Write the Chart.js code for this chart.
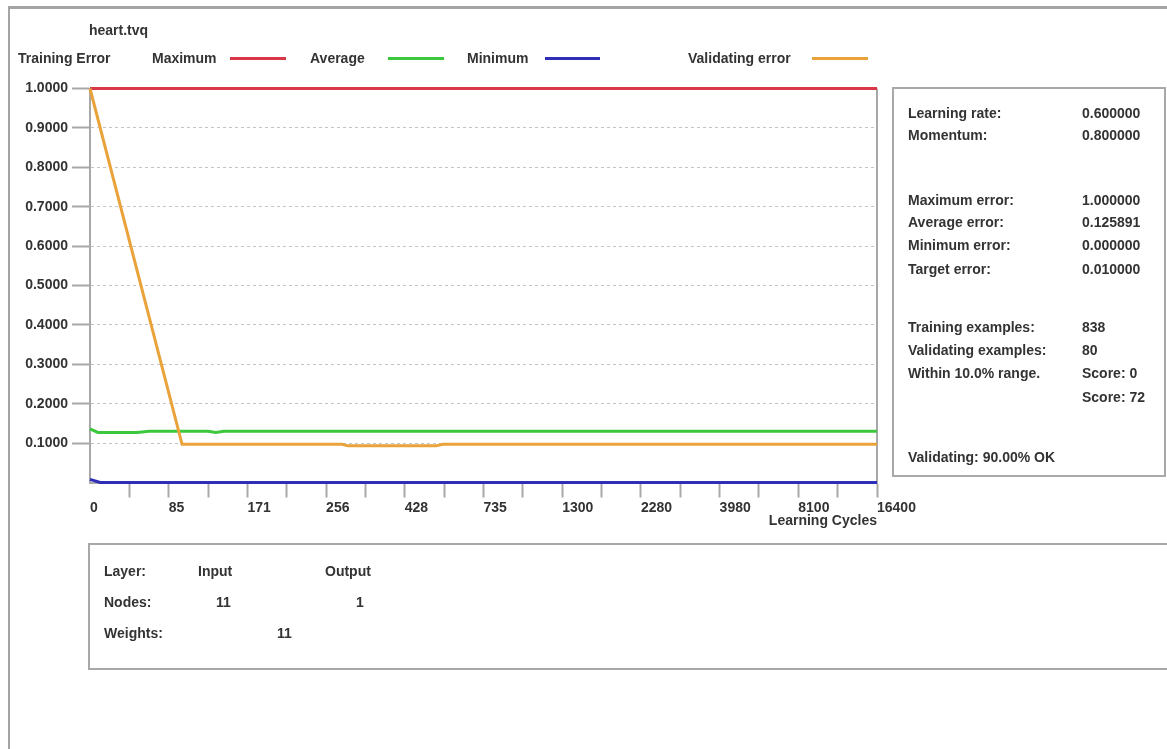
<!DOCTYPE html>
<html><head><meta charset="utf-8">
<script src="https://cdn.jsdelivr.net/npm/chart.js@4"></script>
<style>
html,body{margin:0;padding:0;background:#fff;}
#wrap{position:relative;width:1167px;height:749px;overflow:hidden;font-family:"Liberation Sans",Arial,sans-serif;font-weight:bold;font-size:14px;color:#333;}
#c{position:absolute;left:0;top:0;}
.t{position:absolute;white-space:nowrap;line-height:16px;}
.frame{position:absolute;left:8px;top:6px;width:1200px;height:800px;border-top:3px solid #a4a4a4;border-left:2px solid #a4a4a4;}
.box{position:absolute;border:2px solid #a8a8a8;box-sizing:border-box;}
.lg{position:absolute;height:3px;}
</style></head>
<body>
<div id="wrap">
  <div class="frame"></div>
  <canvas id="c" width="1167" height="749"></canvas>
  <div class="box" style="left:892px;top:87px;width:274px;height:390px;"></div>
  <div class="box" style="left:88px;top:543px;width:1100px;height:127px;"></div>
  <div id="texts"></div>
</div>
<script>
// ---- data ----
const fileTitle = 'heart.tvq';
const legendTitle = 'Training Error';
const cycleLabels = ['0','85','171','256','428','735','1300','2280','3980','8100','16400'];
const seriesNames = ['Maximum','Average','Minimum','Validating error'];
const maxX = [0, 10];
const maxY = [1.0, 1.0];
const avgX = [0, 0.1, 0.6, 0.75, 1.5, 1.6, 1.7, 10];
const avgY = [0.136, 0.127, 0.127, 0.130, 0.130, 0.127, 0.130, 0.130];
const minX = [0, 0.13, 10];
const minY = [0.008, 0.0, 0.0];
const valX = [0, 1.17, 3.2, 3.28, 4.4, 4.48, 10];
const valY = [1.0, 0.097, 0.097, 0.093, 0.093, 0.097, 0.097];
const statsLabels = ['Learning rate:','Momentum:','Maximum error:','Average error:','Minimum error:','Target error:','Training examples:','Validating examples:','Within 10.0% range.','','Validating: 90.00% OK'];
const statsValues = ['0.600000','0.800000','1.000000','0.125891','0.000000','0.010000','838','80','Score: 0','Score: 72',''];
const layerNames = ['Input','Output'];
const layerNodes = ['11','1'];
const layerWeights = ['11'];

// ---- chart ----
const FONT = "'Liberation Sans', Arial, sans-serif";
Chart.defaults.font.family = FONT;
const tf = {family: FONT, size: 14, weight: 'bold'};
const colors = ['#d83848', '#3cc83c', '#2e2eb8', '#eaa23a'];
const pts = (xs, ys) => xs.map((x, i) => ({x: x, y: ys[i]}));
const seriesData = [pts(maxX, maxY), pts(avgX, avgY), pts(minX, minY), pts(valX, valY)];
const T = 'rgba(0,0,0,0)';

const rightLine = {
  id: 'rightLine',
  beforeDatasetsDraw(chart) {
    const {ctx, chartArea: a} = chart;
    ctx.save();
    ctx.strokeStyle = '#a8a8a8';
    ctx.lineWidth = 2;
    ctx.beginPath();
    ctx.moveTo(a.right, a.top);
    ctx.lineTo(a.right, a.bottom);
    ctx.stroke();
    ctx.restore();
  }
};

const chart = new Chart(document.getElementById('c'), {
  type: 'line',
  data: {
    datasets: seriesNames.map((n, i) => ({
      label: n,
      data: seriesData[i],
      borderColor: colors[i],
      backgroundColor: colors[i],
      borderWidth: 3,
      pointRadius: 0,
      tension: 0,
      clip: false,
      order: i === 3 ? 0 : 1
    }))
  },
  options: {
    responsive: false,
    animation: false,
    layout: {padding: {left: 0, top: 88.5, right: 290, bottom: 219.5}},
    plugins: {legend: {display: false}, tooltip: {enabled: false}},
    scales: {
      x: {
        type: 'linear', min: 0, max: 10,
        afterFit(s) { s.height = 47; },
        ticks: {
          stepSize: 0.5, maxTicksLimit: 100, autoSkip: false, maxRotation: 0, minRotation: 0,
          align: 'start', padding: 2, color: '#333', font: tf,
          callback: v => Number.isInteger(v) ? cycleLabels[v] : ''
        },
        grid: {
          drawOnChartArea: false, tickLength: 15, tickWidth: 2,
          color: c => (c.tick && c.tick.value === 0) ? T : '#a8a8a8',
          tickColor: c => (c.tick && c.tick.value === 0) ? T : '#a8a8a8'
        },
        border: {color: '#a8a8a8', width: 2},
        title: {display: true, text: 'Learning Cycles', align: 'end', color: '#333', font: tf, padding: {top: 0, bottom: 0}}
      },
      y: {
        type: 'linear', min: 0, max: 1,
        afterFit(s) { s.width = 90; },
        ticks: {
          stepSize: 0.1, maxTicksLimit: 100, padding: 4, color: '#333', font: tf,
          callback: v => v === 0 ? '' : Number(v).toFixed(4)
        },
        grid: {
          lineWidth: 1, tickLength: 18, tickWidth: 2, tickBorderDash: [],
          color: c => (c.tick && (c.tick.value < 0.001 || c.tick.value > 0.999)) ? T : '#c4c4c4',
          tickColor: c => (c.tick && c.tick.value < 0.001) ? T : '#a8a8a8'
        },
        border: {color: '#a8a8a8', width: 2, dash: [3, 3]}
      }
    }
  },
  plugins: [rightLine]
});

// ---- text overlays ----
const box = document.getElementById('texts');
function txt(s, x, yc) {
  const d = document.createElement('div');
  d.className = 't';
  d.textContent = s;
  d.style.left = x + 'px';
  d.style.top = (yc - 8) + 'px';
  box.appendChild(d);
}
function seg(color, x1, x2, yc) {
  const d = document.createElement('div');
  d.className = 'lg';
  d.style.left = x1 + 'px';
  d.style.width = (x2 - x1) + 'px';
  d.style.top = (yc - 1) + 'px';
  d.style.background = color;
  box.appendChild(d);
}
txt(fileTitle, 89, 30);
txt(legendTitle, 18, 58);
const legendPos = [[152, 230, 286], [310, 388, 444], [467, 545, 600], [688, 812, 868]];
chart.data.datasets.forEach((ds, i) => {
  txt(ds.label, legendPos[i][0], 58);
  seg(ds.borderColor, legendPos[i][1], legendPos[i][2], 58);
});
const statY = [113, 135, 200, 222, 245, 269, 327, 350, 373, 397, 457];
statsLabels.forEach((s, i) => { if (s) txt(s, 908, statY[i]); });
statsValues.forEach((s, i) => { if (s) txt(s, 1082, statY[i]); });
txt('Layer:', 104, 571);
txt(layerNames[0], 198, 571);
txt(layerNames[1], 325, 571);
txt('Nodes:', 104, 602);
txt(layerNodes[0], 216, 602);
txt(layerNodes[1], 356, 602);
txt('Weights:', 104, 633);
txt(layerWeights[0], 277, 633);
</script>
</body></html>
